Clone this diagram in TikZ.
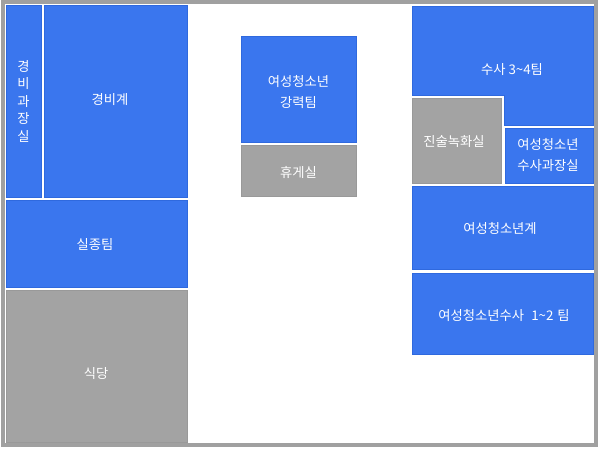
\documentclass[tikz,border=0pt]{standalone}
\usepackage{fontspec}
\setmainfont{Noto Sans CJK KR}
\definecolor{roomblue}{HTML}{3A76EE}
\definecolor{roomblueedge}{HTML}{2F69DE}
\definecolor{roomgray}{HTML}{A3A3A3}
\definecolor{roomgrayedge}{HTML}{999999}
\definecolor{framegray}{HTML}{A0A0A0}
\tikzset{
  room/.style={line width=0.8pt, anchor=north west, inner sep=0pt, outer sep=0pt},
  bluer/.style={room, fill=roomblue, draw=roomblueedge},
  grayr/.style={room, fill=roomgray, draw=roomgrayedge},
  roomtext/.style={text=white, inner sep=0pt, align=center, font=\fontsize{13.3}{21}\selectfont},
}
\begin{document}
\begin{tikzpicture}[x=1pt,y=-1pt]
\useasboundingbox (0,0) rectangle (600,448);
% frame
\fill[framegray] (1,0) rectangle (598,447);
\fill[white] (5,4) rectangle (594,443);
% left column
\node[bluer, minimum width=35pt, minimum height=192pt] (gbgj) at (6,5) {};
\node[bluer, minimum width=143pt, minimum height=192pt] (gbg) at (44,5) {};
\node[bluer, minimum width=181pt, minimum height=87pt] (sjt) at (6,200) {};
\node[grayr, minimum width=181pt, minimum height=152pt] (sd) at (6,290) {};
% middle
\node[bluer, minimum width=115pt, minimum height=106pt] (gr) at (241,36) {};
\node[grayr, minimum width=115pt, minimum height=51pt] (hg) at (241,145) {};
% right column
\fill[roomblue, draw=roomblueedge, line width=0.8pt] (412,6) -- (593,6) -- (593,125) -- (504,125) -- (504,95) -- (412,95) -- cycle;
\coordinate (ss34) at (412,6);
\node[grayr, minimum width=89pt, minimum height=85pt] (jsn) at (412,98) {};
\node[bluer, minimum width=88pt, minimum height=55pt] (ssgj) at (505,128) {};
\node[bluer, minimum width=181pt, minimum height=83pt] (ysg) at (412,186) {};
\node[bluer, minimum width=181pt, minimum height=81pt] (ys12) at (412,273) {};
% texts
\node[roomtext, font=\fontsize{13.3}{17.5}\selectfont] (t-gbgj) at (23.5,101) {경\\비\\과\\장\\실};
\node[roomtext] (t-gbg) at (110,100) {경비계};
\node[roomtext] (t-sjt) at (95,244) {실종팀};
\node[roomtext] (t-sd) at (96,374) {식당};
\node[roomtext] (t-gr) at (298.5,91.5) {여성청소년\\강력팀};
\node[roomtext] (t-hg) at (298.5,172) {휴게실};
\node[roomtext] (t-ss34) at (512,70) {수사 3\textasciitilde 4팀};
\node[roomtext] (t-jsn) at (454,142) {진술녹화실};
\node[roomtext] (t-ssgj) at (548,155) {여성청소년\\수사과장실};
\node[roomtext] (t-ysg) at (500,228) {여성청소년계};
\node[roomtext] (t-ys12) at (504,315) {여성청소년수사\hspace{0.55em}1\textasciitilde 2\hspace{0.3em}팀};
\end{tikzpicture}
\end{document}
